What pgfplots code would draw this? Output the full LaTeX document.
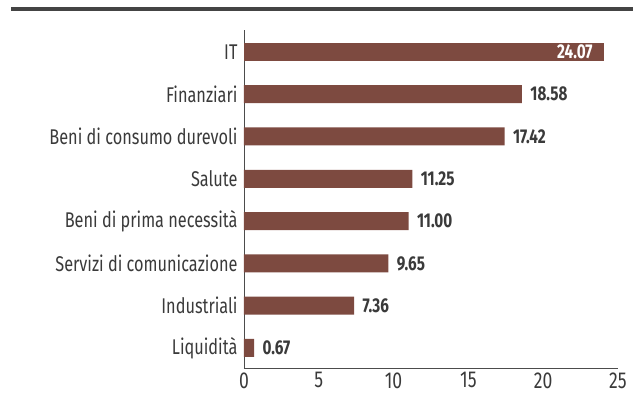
\documentclass[border=0pt]{standalone}
\usepackage{pgfplots}
\pgfplotsset{compat=1.18}
\usepackage{fontspec}
\setmainfont{Fira Sans}[FakeStretch=0.765]
\definecolor{barc}{HTML}{7D4A40}
\definecolor{txt}{HTML}{3A3A3A}
\begin{document}
\begin{tikzpicture}[x=1pt,y=1pt]
\path[use as bounding box] (0,0) rectangle (641,407);
\draw[line width=4pt, color=txt!95] (11,398) -- (633,398);
\begin{axis}[
  at={(244pt,59pt)}, anchor=origin,
  scale only axis, width=374pt, height=338pt,
  xbar, bar width=18pt,
  xmin=0, xmax=25, ymin=-0.47, ymax=7.52,
  axis lines=left, axis line style={-, color=black!70, line width=0.6pt},
  xtick={0,5,10,15,20,25}, ytick={0,...,7},
  yticklabels={Liquidità, Industriali, Servizi di comunicazione, Beni di prima necessità, Salute, Beni di consumo durevoli, Finanziari, IT},
  major tick length=0pt,
  tick label style={font=\fontsize{21.3}{24}\selectfont, color=txt},
  /pgf/number format/assume math mode=true,
  yticklabel style={xshift=-3pt},
  xticklabel style={yshift=-1pt, font=\fontsize{23}{25}\selectfont},
  nodes near coords={\pgfmathprintnumber[fixed, fixed zerofill, precision=2]{\pgfplotspointmeta}},
  point meta=x,
]
\addplot[fill=barc, draw=none, bar shift=0pt,
  every node near coord/.append style={anchor=west, xshift=5pt, font=\bfseries\fontsize{20}{22}\selectfont, color=txt}]
  coordinates {(0.67,0) (7.36,1) (9.65,2) (11.00,3) (11.25,4) (17.42,5) (18.58,6)};
\addplot[fill=barc, draw=none, bar shift=0pt,
  every node near coord/.append style={anchor=east, xshift=-8pt, font=\bfseries\fontsize{20}{22}\selectfont, color=white}]
  coordinates {(24.07,7)};
\end{axis}
\end{tikzpicture}
\end{document}
